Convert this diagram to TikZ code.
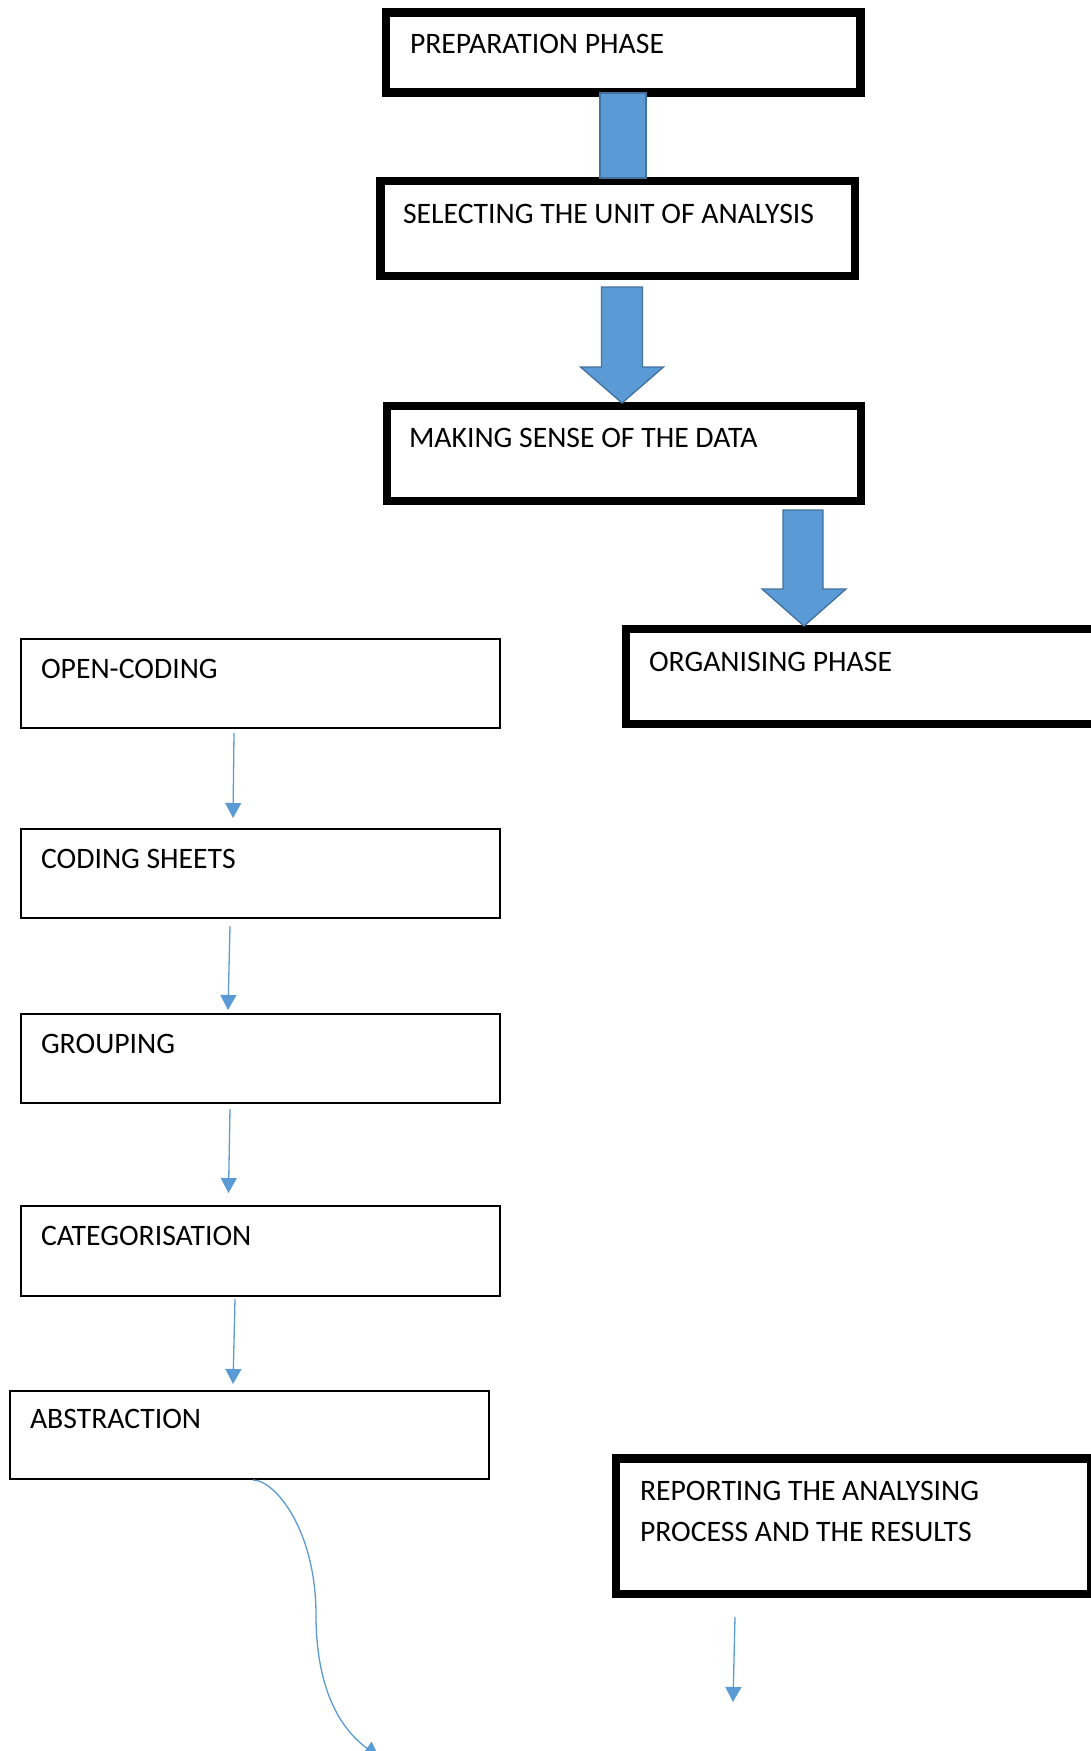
\documentclass[tikz,border=0pt]{standalone}
\usepackage{fontspec}
\setmainfont{Carlito}
\usetikzlibrary{arrows.meta,calc}
\definecolor{blockfill}{HTML}{5B9BD5}
\definecolor{blockline}{HTML}{41719C}
\definecolor{connblue}{HTML}{5B9BD5}
\begin{document}
\begin{tikzpicture}[x=1pt,y=-1pt,
  thickbox/.style={draw=black,line width=8.5pt,rectangle,outer sep=0pt,inner sep=0pt,anchor=north west},
  thinbox/.style={draw=black,line width=1.5pt,rectangle,outer sep=0pt,inner sep=0pt,anchor=north west},
  boxtext/.style={anchor=base west,inner sep=0pt,outer sep=0pt,font=\fontsize{29.7pt}{41pt}\selectfont,align=left},
  blockarrow/.style={fill=blockfill,draw=blockline,line width=1.3pt,line join=miter},
  thinconn/.style={draw=connblue,line width=1.3pt,-{Triangle[width=16pt,length=15pt]}}
]
\useasboundingbox (0,0) rectangle (1091,1751);
\clip (0,0) rectangle (1091,1751);

% boxes
\node[thickbox,minimum width=474.5pt,minimum height=80pt] (prep) at (386,12.5) {};
\node[thickbox,minimum width=474.5pt,minimum height=95pt] (sel) at (380.5,181) {};
\node[thickbox,minimum width=474pt,minimum height=95pt] (mak) at (387,406) {};
\node[thickbox,minimum width=475pt,minimum height=95pt] (org) at (626,629) {};
\node[thickbox,minimum width=475pt,minimum height=135.5pt] (rep) at (616,1458.5) {};

\node[thinbox,minimum width=479pt,minimum height=89pt] (open) at (21,639) {};
\node[thinbox,minimum width=479pt,minimum height=89pt] (cod) at (21,829) {};
\node[thinbox,minimum width=479pt,minimum height=89pt] (grp) at (21,1014) {};
\node[thinbox,minimum width=479pt,minimum height=90pt] (cat) at (21,1206) {};
\node[thinbox,minimum width=479pt,minimum height=88pt] (abs) at (10,1391) {};

% texts
\node[boxtext] (tprep) at (410,53) {PREPARATION PHASE};
\node[boxtext] (tsel) at (403,223) {SELECTING THE UNIT OF ANALYSIS};
\node[boxtext] (tmak) at (409,447) {MAKING SENSE OF THE DATA};
\node[boxtext] (torg) at (649,671) {ORGANISING PHASE};
\node[boxtext] (trep1) at (640,1500) {REPORTING THE ANALYSING};
\node[boxtext] (trep2) at (640,1541) {PROCESS AND THE RESULTS};
\node[boxtext] (topen) at (41,678) {OPEN-CODING};
\node[boxtext] (tcod) at (41,868) {CODING SHEETS};
\node[boxtext] (tgrp) at (41,1053) {GROUPING};
\node[boxtext] (tcat) at (41,1245) {CATEGORISATION};
\node[boxtext] (tabs) at (30,1428) {ABSTRACTION};

% block arrows
\draw[blockarrow] ($(prep.south)+(-23.25,0.5)$) rectangle ($(prep.south |- sel.north)+(22.75,-3)$);

\coordinate (a2top) at ($(sel.south)+(4.25,11)$);
\coordinate (a2tip) at ($(mak.north)+(-2,-3)$);
\draw[blockarrow] ($(a2top)+(-20.5,0)$) -- ($(a2top)+(20.5,0)$) -- ($(a2tip)+(20.5,-36)$)
  -- ($(a2tip)+(41.5,-36)$) -- (a2tip) -- ($(a2tip)+(-41.5,-36)$) -- ($(a2tip)+(-20.5,-36)$) -- cycle;

\coordinate (a3top) at ($(mak.south)+(179,9)$);
\coordinate (a3tip) at ($(org.north west)+(178,-3)$);
\draw[blockarrow] ($(a3top)+(-20,0)$) -- ($(a3top)+(20,0)$) -- ($(a3tip)+(19,-37)$)
  -- ($(a3tip)+(42,-37)$) -- (a3tip) -- ($(a3tip)+(-42,-37)$) -- ($(a3tip)+(-21,-37)$) -- cycle;

% thin connectors
\draw[thinconn] ($(open.south)+(-26.5,5)$) -- ($(cod.north)+(-27.5,-11)$);
\draw[thinconn] ($(cod.south)+(-30.5,8)$) -- ($(grp.north)+(-32.5,-4)$);
\draw[thinconn] ($(grp.south)+(-30.5,6)$) -- ($(cat.north)+(-32,-13)$);
\draw[thinconn] ($(cat.south)+(-25.5,3)$) -- ($(abs.north)+(-16.5,-7)$);

\coordinate (repend) at (733,1702);
\draw[thinconn] ($(rep.south)+(-118.5,23)$) -- (repend);

\coordinate (absend) at (379,1757);
\draw[thinconn] ($(abs.south)+(3.5,1)$) .. controls (275,1480) and (316,1530) .. (316,1615)
  .. controls (316,1680) and (335,1725) .. (absend);
\end{tikzpicture}
\end{document}
